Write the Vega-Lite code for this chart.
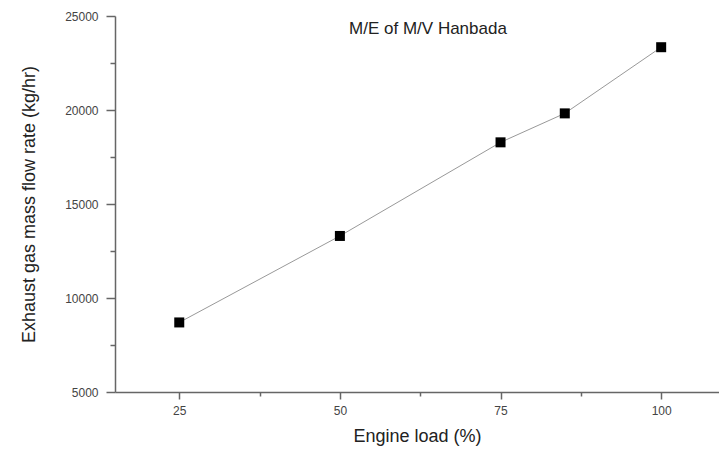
{
  "$schema": "https://vega.github.io/schema/vega-lite/v6.json",
  "width": 604,
  "height": 376,
  "autosize": "none",
  "padding": {"left": 115, "top": 16, "right": 0, "bottom": 65},
  "background": "white",
  "config": {
    "view": {"stroke": null},
    "font": "Liberation Sans"
  },
  "title": {
    "text": "M/E of M/V Hanbada",
    "anchor": "middle",
    "offset": -28,
    "dx": 11,
    "fontSize": 17,
    "fontWeight": "normal",
    "font": "Liberation Sans",
    "color": "#222"
  },
  "data": {
    "values": [
      {"load": 25, "flow": 8700},
      {"load": 50, "flow": 13300},
      {"load": 75, "flow": 18280},
      {"load": 85, "flow": 19820},
      {"load": 100, "flow": 23340}
    ]
  },
  "encoding": {
    "x": {
      "field": "load",
      "type": "quantitative",
      "scale": {"domain": [15, 109], "nice": false, "zero": false},
      "axis": {
        "title": "Engine load (%)",
        "values": [25, 37.5, 50, 62.5, 75, 87.5, 100],
        "labelExpr": "datum.value % 25 === 0 ? datum.label : ''",
        "grid": false,
        "domainColor": "#666",
        "domainWidth": 1.5,
        "tickColor": "#666",
        "tickWidth": 1.5,
        "tickSize": {"condition": {"test": "datum.value % 25 !== 0", "value": 4}, "value": 7},
        "labelFontSize": 12,
        "labelColor": "#444",
        "labelPadding": 6,
        "titleFontSize": 18,
        "titleFontWeight": "normal",
        "titleColor": "#222",
        "titlePadding": 11
      }
    },
    "y": {
      "field": "flow",
      "type": "quantitative",
      "scale": {"domain": [5000, 25000], "nice": false, "zero": false},
      "axis": {
        "title": "Exhaust gas mass flow rate (kg/hr)",
        "values": [5000, 7500, 10000, 12500, 15000, 17500, 20000, 22500, 25000],
        "labelExpr": "datum.value % 5000 === 0 ? format(datum.value, 'd') : ''",
        "grid": false,
        "domainColor": "#666",
        "domainWidth": 1.5,
        "tickColor": "#666",
        "tickWidth": 1.5,
        "tickSize": {"condition": {"test": "datum.value % 5000 !== 0", "value": 5}, "value": 9},
        "labelFontSize": 12,
        "labelColor": "#444",
        "labelPadding": 8,
        "titleFontSize": 18,
        "titleFontWeight": "normal",
        "titleColor": "#222",
        "titlePadding": 26
      }
    }
  },
  "layer": [
    {"mark": {"type": "line", "color": "#999", "strokeWidth": 1}},
    {"mark": {"type": "point", "shape": "square", "filled": true, "color": "black", "size": 100, "opacity": 1}}
  ]
}
